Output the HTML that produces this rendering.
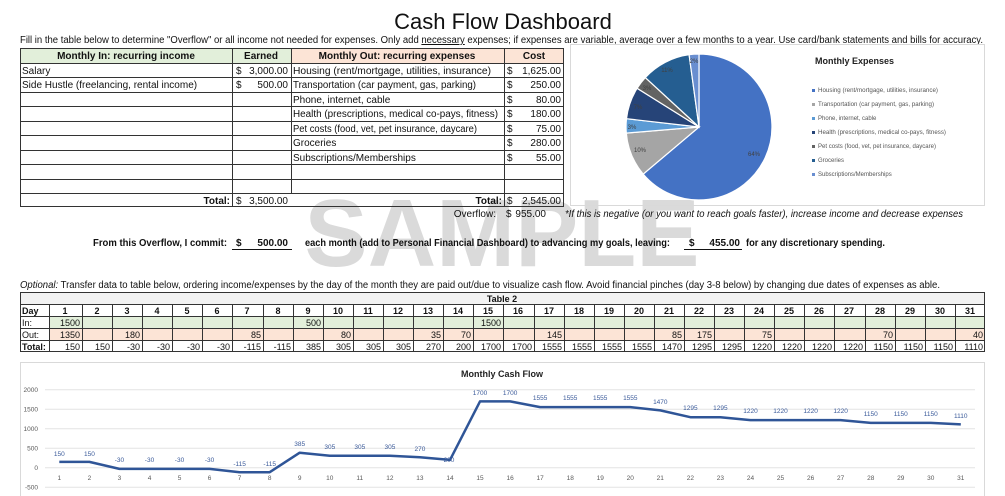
<!DOCTYPE html>
<html><head><meta charset="utf-8"><style>
html,body{margin:0;padding:0;background:#fff;width:1005px;height:496px;overflow:hidden}
svg{display:block;font-family:"Liberation Sans",sans-serif}
</style></head><body>
<svg width="1005" height="496" viewBox="0 0 1005 496" xmlns="http://www.w3.org/2000/svg">
<rect width="1005" height="496" fill="#fff"/>
<!-- watermark -->
<text x="502" y="266" font-size="96" font-weight="bold" fill="#dadada" text-anchor="middle" textLength="395" lengthAdjust="spacingAndGlyphs">SAMPLE</text>

<text x="503" y="29" font-size="22" text-anchor="middle" fill="#111">Cash Flow Dashboard</text>
<text x="20" y="43" font-size="10" fill="#111" textLength="963" lengthAdjust="spacingAndGlyphs">Fill in the table below to determine "Overflow" or all income not needed for expenses. Only add <tspan text-decoration="underline">necessary</tspan> expenses; if expenses are variable, average over a few months to a year. Use card/bank statements and bills for accuracy.</text>

<!-- top table -->
<rect x="20" y="48" width="271" height="15" fill="#E2EFDA"/>
<rect x="291" y="48" width="273" height="15" fill="#FCE4D6"/>
<g stroke="#333" stroke-width="1" fill="none">
<rect x="20.5" y="48.5" width="543" height="158"/>
<path d="M232.5 48v159M291.5 48v145M504.5 48v159"/>
<path d="M20 63.5h544M20 77.5h544M20 92.5h544M20 106.5h544M20 121.5h544M20 135.5h544M20 150.5h544M20 164.5h544M20 179.5h544M20 193.5h544"/>
</g>
<g font-size="10" fill="#111">
<g font-weight="bold" text-anchor="middle">
<text x="126" y="59">Monthly In: recurring income</text>
<text x="261" y="59">Earned</text>
<text x="397" y="59">Monthly Out: recurring expenses</text>
<text x="534" y="59">Cost</text>
</g>
<text x="22" y="74">Salary</text>
<text x="22" y="88">Side Hustle (freelancing, rental income)</text>
<text x="236" y="74">$</text><text x="288" y="74" text-anchor="end">3,000.00</text>
<text x="236" y="88">$</text><text x="288" y="88" text-anchor="end">500.00</text>
<g textLength="0">
<text x="293" y="74" textLength="198" lengthAdjust="spacingAndGlyphs">Housing (rent/mortgage, utilities, insurance)</text>
<text x="293" y="88" textLength="183" lengthAdjust="spacingAndGlyphs">Transportation (car payment, gas, parking)</text>
<text x="293" y="103">Phone, internet, cable</text>
<text x="293" y="117" textLength="205" lengthAdjust="spacingAndGlyphs">Health (prescriptions, medical co-pays, fitness)</text>
<text x="293" y="132" textLength="184" lengthAdjust="spacingAndGlyphs">Pet costs (food, vet, pet insurance, daycare)</text>
<text x="293" y="146">Groceries</text>
<text x="293" y="161">Subscriptions/Memberships</text>
</g>
<g text-anchor="end">
<text x="561" y="74">1,625.00</text><text x="561" y="88">250.00</text><text x="561" y="103">80.00</text><text x="561" y="117">180.00</text><text x="561" y="132">75.00</text><text x="561" y="146">280.00</text><text x="561" y="161">55.00</text><text x="561" y="204">2,545.00</text>
<text x="288" y="204">3,500.00</text>
<text x="230" y="204" font-weight="bold">Total:</text>
<text x="502" y="204" font-weight="bold">Total:</text>
</g>
<text x="507" y="74">$</text><text x="507" y="88">$</text><text x="507" y="103">$</text><text x="507" y="117">$</text><text x="507" y="132">$</text><text x="507" y="146">$</text><text x="507" y="161">$</text><text x="507" y="204">$</text>
<text x="236" y="204">$</text>
</g>

<!-- pie panel -->
<rect x="570.5" y="44.5" width="414" height="161" fill="none" stroke="#d9d9d9"/>
<g stroke="#fff" stroke-width="1.2">
<path d="M699 127L699 54A73 73 0 1 1 643.2 174.1Z" fill="#4472C4"/>
<path d="M699 127L643.2 174.1A73 73 0 0 1 626.3 133.1Z" fill="#A5A5A5"/>
<path d="M699 127L626.3 133.1A73 73 0 0 1 626.5 118.7Z" fill="#5B9BD5"/>
<path d="M699 127L626.5 118.7A73 73 0 0 1 637.1 88.3Z" fill="#264478"/>
<path d="M699 127L637.1 88.3A73 73 0 0 1 645.3 77.6Z" fill="#636363"/>
<path d="M699 127L645.3 77.6A73 73 0 0 1 689.1 54.7Z" fill="#255E91"/>
<path d="M699 127L689.1 54.7A73 73 0 0 1 699 54Z" fill="#698ED0"/>
</g>
<g font-size="6" fill="#404040" text-anchor="middle">
<text x="754" y="156">64%</text><text x="640" y="152">10%</text><text x="632" y="129">3%</text><text x="638" y="109">7%</text><text x="647" y="90">3%</text><text x="667" y="72">11%</text><text x="694" y="63">2%</text>
</g>
<text x="815" y="64" font-size="9" font-weight="bold" fill="#222">Monthly Expenses</text>
<g font-size="6" fill="#555">
<rect x="812" y="89" width="3" height="3" fill="#4472C4"/><text x="818" y="92" textLength="120" lengthAdjust="spacingAndGlyphs">Housing (rent/mortgage, utilities, insurance)</text>
<rect x="812" y="103" width="3" height="3" fill="#A5A5A5"/><text x="818" y="106" textLength="116" lengthAdjust="spacingAndGlyphs">Transportation (car payment, gas, parking)</text>
<rect x="812" y="117" width="3" height="3" fill="#5B9BD5"/><text x="818" y="120">Phone, internet, cable</text>
<rect x="812" y="131" width="3" height="3" fill="#264478"/><text x="818" y="134" textLength="128" lengthAdjust="spacingAndGlyphs">Health (prescriptions, medical co-pays, fitness)</text>
<rect x="812" y="145" width="3" height="3" fill="#636363"/><text x="818" y="148" textLength="118" lengthAdjust="spacingAndGlyphs">Pet costs (food, vet, pet insurance, daycare)</text>
<rect x="812" y="159" width="3" height="3" fill="#255E91"/><text x="818" y="162">Groceries</text>
<rect x="812" y="173" width="3" height="3" fill="#698ED0"/><text x="818" y="176">Subscriptions/Memberships</text>
</g>

<!-- overflow -->
<g font-size="10" fill="#111">
<text x="496" y="217" text-anchor="end">Overflow:</text>
<text x="506" y="217">$</text>
<text x="546" y="217" text-anchor="end">955.00</text>
<text x="565" y="217" font-style="italic" textLength="398" lengthAdjust="spacingAndGlyphs">*If this is negative (or you want to reach goals faster), increase income and decrease expenses</text>
<g font-weight="bold">
<text x="93" y="246" textLength="134" lengthAdjust="spacingAndGlyphs">From this Overflow, I commit:</text>
<text x="236" y="246">$</text><text x="288" y="246" text-anchor="end">500.00</text>
<text x="305" y="246" textLength="365" lengthAdjust="spacingAndGlyphs">each month (add to Personal Financial Dashboard) to advancing my goals, leaving:</text>
<text x="689" y="246">$</text><text x="740" y="246" text-anchor="end">455.00</text>
<text x="746" y="246" textLength="139" lengthAdjust="spacingAndGlyphs">for any discretionary spending.</text>
</g>
<path d="M232 249.5h60M684 249.5h58" stroke="#111" stroke-width="1"/>
<text x="20" y="288" textLength="920" lengthAdjust="spacingAndGlyphs"><tspan font-style="italic">Optional:</tspan>  Transfer data to table below, ordering income/expenses by the day of the month they are paid out/due to visualize cash flow. Avoid financial pinches (day 3-8 below) by changing due dates of expenses as able.</text>
</g>

<!-- table 2 -->
<rect x="20" y="292" width="965" height="12" fill="#F2F2F2"/>
<rect x="49" y="316" width="936" height="12" fill="#E2EFDA"/>
<rect x="49" y="328" width="936" height="12" fill="#FCE4D6"/>
<g stroke="#333" stroke-width="1" fill="none">
<rect x="20.5" y="292.5" width="964" height="59"/>
<path d="M20 304.5h965M20 316.5h965M20 328.5h965M20 340.5h965"/>
<path d="M49.5 304v48M82.5 304v48M112.5 304v48M142.5 304v48M172.5 304v48M202.5 304v48M232.5 304v48M263.5 304v48M293.5 304v48M323.5 304v48M353.5 304v48M383.5 304v48M413.5 304v48M443.5 304v48M473.5 304v48M503.5 304v48M534.5 304v48M564.5 304v48M594.5 304v48M624.5 304v48M654.5 304v48M684.5 304v48M714.5 304v48M744.5 304v48M774.5 304v48M804.5 304v48M834.5 304v48M865.5 304v48M895.5 304v48M925.5 304v48M955.5 304v48"/>
</g>
<g font-size="9" fill="#111">
<text x="502" y="302" font-weight="bold" text-anchor="middle">Table 2</text>
<text x="22" y="314" font-weight="bold">Day</text>
<text x="22" y="326">In:</text>
<text x="22" y="338">Out:</text>
<text x="22" y="350" font-weight="bold">Total:</text>
<g font-weight="bold" text-anchor="middle">
<text x="65" y="314">1</text><text x="97" y="314">2</text><text x="127" y="314">3</text><text x="157" y="314">4</text><text x="187" y="314">5</text><text x="217" y="314">6</text><text x="247" y="314">7</text><text x="278" y="314">8</text><text x="308" y="314">9</text><text x="338" y="314">10</text><text x="368" y="314">11</text><text x="398" y="314">12</text><text x="428" y="314">13</text><text x="458" y="314">14</text><text x="488" y="314">15</text><text x="518" y="314">16</text><text x="549" y="314">17</text><text x="579" y="314">18</text><text x="609" y="314">19</text><text x="639" y="314">20</text><text x="669" y="314">21</text><text x="699" y="314">22</text><text x="729" y="314">23</text><text x="759" y="314">24</text><text x="789" y="314">25</text><text x="819" y="314">26</text><text x="849" y="314">27</text><text x="880" y="314">28</text><text x="910" y="314">29</text><text x="940" y="314">30</text><text x="970" y="314">31</text>
</g>
<g text-anchor="end">
<text x="80" y="326">1500</text><text x="321" y="326">500</text><text x="501" y="326">1500</text>
<text x="80" y="338">1350</text><text x="140" y="338">180</text><text x="261" y="338">85</text><text x="351" y="338">80</text><text x="441" y="338">35</text><text x="471" y="338">70</text><text x="562" y="338">145</text><text x="682" y="338">85</text><text x="712" y="338">175</text><text x="772" y="338">75</text><text x="893" y="338">70</text><text x="983" y="338">40</text>
<text x="80" y="350">150</text><text x="110" y="350">150</text><text x="140" y="350">-30</text><text x="170" y="350">-30</text><text x="200" y="350">-30</text><text x="230" y="350">-30</text><text x="261" y="350">-115</text><text x="291" y="350">-115</text><text x="321" y="350">385</text><text x="351" y="350">305</text><text x="381" y="350">305</text><text x="411" y="350">305</text><text x="441" y="350">270</text><text x="471" y="350">200</text><text x="501" y="350">1700</text><text x="532" y="350">1700</text><text x="562" y="350">1555</text><text x="592" y="350">1555</text><text x="622" y="350">1555</text><text x="652" y="350">1555</text><text x="682" y="350">1470</text><text x="712" y="350">1295</text><text x="742" y="350">1295</text><text x="772" y="350">1220</text><text x="802" y="350">1220</text><text x="832" y="350">1220</text><text x="863" y="350">1220</text><text x="893" y="350">1150</text><text x="923" y="350">1150</text><text x="953" y="350">1150</text><text x="983" y="350">1110</text>
</g>
</g>

<!-- line chart -->
<rect x="20.5" y="362.5" width="964" height="140" fill="none" stroke="#d9d9d9"/>
<text x="502" y="377" font-size="9" font-weight="bold" text-anchor="middle" fill="#222">Monthly Cash Flow</text>
<g stroke="#e3e3e3" stroke-width="1">
<path d="M45 389.7h930M45 409.2h930M45 428.7h930M45 448.2h930M45 467.7h930M45 487.2h930"/>
</g>
<g font-size="6.5" fill="#595959" text-anchor="end">
<text x="38" y="392">2000</text><text x="38" y="411.5">1500</text><text x="38" y="431">1000</text><text x="38" y="450.5">500</text><text x="38" y="470">0</text><text x="38" y="489.5">-500</text>
</g>
<g font-size="6.5" fill="#595959" text-anchor="middle">
<text x="59.3" y="480">1</text><text x="89.4" y="480">2</text><text x="119.4" y="480">3</text><text x="149.5" y="480">4</text><text x="179.5" y="480">5</text><text x="209.6" y="480">6</text><text x="239.6" y="480">7</text><text x="269.7" y="480">8</text><text x="299.7" y="480">9</text><text x="329.8" y="480">10</text><text x="359.8" y="480">11</text><text x="389.9" y="480">12</text><text x="419.9" y="480">13</text><text x="450" y="480">14</text><text x="480" y="480">15</text><text x="510.1" y="480">16</text><text x="540.1" y="480">17</text><text x="570.2" y="480">18</text><text x="600.2" y="480">19</text><text x="630.3" y="480">20</text><text x="660.3" y="480">21</text><text x="690.4" y="480">22</text><text x="720.4" y="480">23</text><text x="750.5" y="480">24</text><text x="780.5" y="480">25</text><text x="810.6" y="480">26</text><text x="840.6" y="480">27</text><text x="870.7" y="480">28</text><text x="900.7" y="480">29</text><text x="930.8" y="480">30</text><text x="960.8" y="480">31</text>
</g>
<polyline fill="none" stroke="#2F5597" stroke-width="2.5" stroke-linejoin="round" points="59.3,461.9 89.4,461.9 119.4,468.9 149.5,468.9 179.5,468.9 209.6,468.9 239.6,472.2 269.7,472.2 299.7,452.7 329.8,455.8 359.8,455.8 389.9,455.8 419.9,457.2 450,459.9 480,401.4 510.1,401.4 540.1,407.1 570.2,407.1 600.2,407.1 630.3,407.1 660.3,410.4 690.4,417.2 720.4,417.2 750.5,420.1 780.5,420.1 810.6,420.1 840.6,420.1 870.7,422.9 900.7,422.9 930.8,422.9 960.8,424.4"/>
<g font-size="6.5" fill="#3A5A9A" text-anchor="middle">
<text x="59.3" y="456">150</text><text x="89.4" y="456">150</text><text x="119.4" y="462">-30</text><text x="149.5" y="462">-30</text><text x="179.5" y="462">-30</text><text x="209.6" y="462">-30</text><text x="239.6" y="466">-115</text><text x="269.7" y="466">-115</text><text x="299.7" y="446">385</text><text x="329.8" y="449">305</text><text x="359.8" y="449">305</text><text x="389.9" y="449">305</text><text x="419.9" y="451">270</text><text x="449" y="462">200</text><text x="480" y="395">1700</text><text x="510.1" y="395">1700</text><text x="540.1" y="400">1555</text><text x="570.2" y="400">1555</text><text x="600.2" y="400">1555</text><text x="630.3" y="400">1555</text><text x="660.3" y="404">1470</text><text x="690.4" y="410">1295</text><text x="720.4" y="410">1295</text><text x="750.5" y="413">1220</text><text x="780.5" y="413">1220</text><text x="810.6" y="413">1220</text><text x="840.6" y="413">1220</text><text x="870.7" y="416">1150</text><text x="900.7" y="416">1150</text><text x="930.8" y="416">1150</text><text x="960.8" y="418">1110</text>
</g>
</svg>
</body></html>
